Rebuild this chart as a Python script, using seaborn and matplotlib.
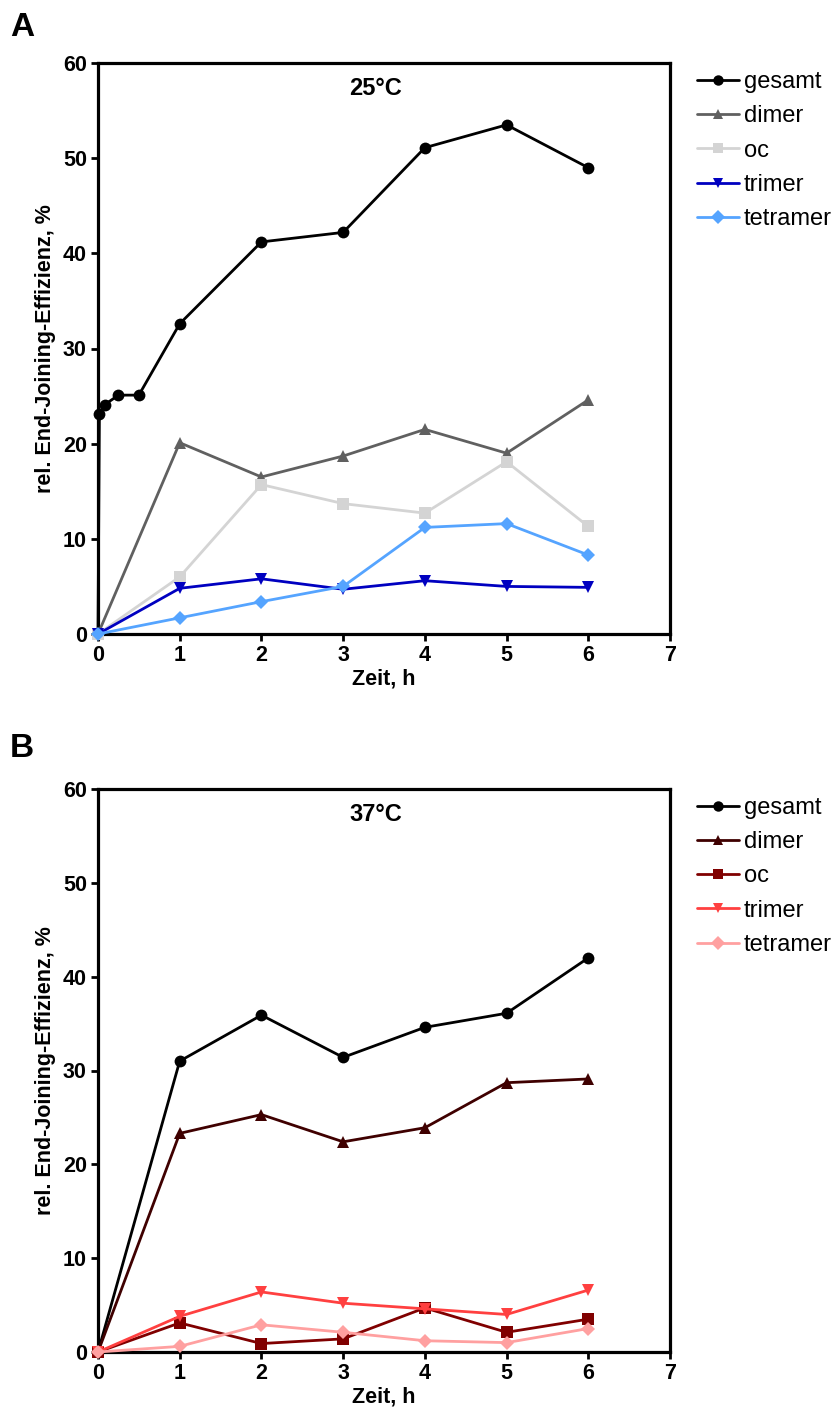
import numpy as np
import pandas as pd
import matplotlib
matplotlib.use("Agg")
import matplotlib.pyplot as plt
import seaborn as sns

# ---------------- data ----------------
series = ["gesamt", "dimer", "oc", "trimer", "tetramer"]
hours = [0, 1, 2, 3, 4, 5, 6]

# Panel A (25 °C)
a_gesamt_x = [0, 0.017, 0.083, 0.25, 0.5, 1, 2, 3, 4, 5, 6]
a_gesamt = [0, 23.1, 24.1, 25.1, 25.1, 32.6, 41.2, 42.2, 51.1, 53.5, 49.0]
a_dimer = [0, 20.1, 16.5, 18.7, 21.5, 19.0, 24.6]
a_oc = [0, 6.0, 15.7, 13.7, 12.7, 18.1, 11.3]
a_trimer = [0, 4.8, 5.8, 4.7, 5.6, 5.0, 4.9]
a_tetramer = [0, 1.7, 3.4, 5.0, 11.2, 11.6, 8.3]

# Panel B (37 °C)
b_gesamt = [0, 31.0, 35.9, 31.4, 34.6, 36.1, 42.0]
b_dimer = [0, 23.3, 25.3, 22.4, 23.9, 28.7, 29.1]
b_oc = [0, 3.1, 0.9, 1.4, 4.7, 2.1, 3.5]
b_trimer = [0, 3.8, 6.4, 5.2, 4.6, 4.0, 6.6]
b_tetramer = [0, 0.6, 2.9, 2.1, 1.2, 1.0, 2.5]

xticks = [0, 1, 2, 3, 4, 5, 6, 7]
yticks = [0, 10, 20, 30, 40, 50, 60]

palette_a = {"gesamt": "#000000", "dimer": "#606060", "oc": "#D4D4D4",
             "trimer": "#0000C0", "tetramer": "#55A4FF"}
palette_b = {"gesamt": "#000000", "dimer": "#3F0000", "oc": "#800000",
             "trimer": "#FF4040", "tetramer": "#FFA0A0"}
markers = {"gesamt": "o", "dimer": "^", "oc": "s", "trimer": "v", "tetramer": "D"}
msizes = {"gesamt": 8.5, "dimer": 8.5, "oc": 8.5, "trimer": 9, "tetramer": 7}


def long_df(xs_list, ys_list):
    rows = []
    for name, xs, ys in zip(series, xs_list, ys_list):
        for x, y in zip(xs, ys):
            rows.append({"Zeit": x, "Wert": y, "Serie": name})
    return pd.DataFrame(rows)


df_a = long_df([a_gesamt_x, hours, hours, hours, hours],
               [a_gesamt, a_dimer, a_oc, a_trimer, a_tetramer])
df_b = long_df([hours] * 5, [b_gesamt, b_dimer, b_oc, b_trimer, b_tetramer])

sns.set_theme(style="ticks")
plt.rcParams["font.family"] = ["Liberation Sans", "DejaVu Sans"]
plt.rcParams.update({"text.color": "black", "axes.labelcolor": "black",
                     "xtick.color": "black", "ytick.color": "black",
                     "axes.edgecolor": "black"})

W, H = 836, 1419
fig = plt.figure(figsize=(W / 100, H / 100), dpi=100)


def px_axes(left, top, right, bottom):
    return fig.add_axes([left / W, 1 - bottom / H, (right - left) / W, (bottom - top) / H])


def draw(ax, df, palette, title, letter, letter_y):
    for name in series:
        sub = df[df["Serie"] == name]
        sns.lineplot(data=sub, x="Zeit", y="Wert", ax=ax, color=palette[name],
                     marker=markers[name], markersize=msizes[name],
                     markeredgewidth=0, linewidth=2.0, label=name,
                     clip_on=False, zorder=3, errorbar=None, sort=False)
    ax.set_xlim(0, 7)
    ax.set_ylim(0, 60)
    ax.set_xticks(xticks)
    ax.set_yticks(yticks)
    for sp in ax.spines.values():
        sp.set_visible(True)
        sp.set_linewidth(2.3)
        sp.set_color("black")
    ax.tick_params(axis="both", direction="out", length=5, width=2.0,
                   labelsize=15.5, color="black", labelcolor="black", pad=3)
    for lab in ax.get_xticklabels() + ax.get_yticklabels():
        lab.set_fontweight("bold")
    ax.set_xlabel("Zeit, h", fontsize=15.5, fontweight="bold", labelpad=2,
                  color="black")
    ax.set_ylabel("rel. End-Joining-Effizienz, %", fontsize=15.5,
                  fontweight="bold", labelpad=5, color="black")
    ax.text(0.485, 0.975, title, transform=ax.transAxes, ha="center",
            va="top", fontsize=17, fontweight="bold", color="black")
    leg = ax.legend(loc="upper left", bbox_to_anchor=(1.047, 0.986),
                    frameon=False, fontsize=17, handlelength=1.8,
                    handletextpad=0.18, labelspacing=0.52, borderaxespad=0,
                    borderpad=0)
    for h in leg.legend_handles:
        h.set_markersize(7.5)
    for t in leg.get_texts():
        t.set_color("black")
    fig.text(10 / W, 1 - letter_y / H, letter, fontsize=24,
             fontweight="bold", va="center", ha="left", color="black")


ax_a = px_axes(98, 63, 670, 634)
draw(ax_a, df_a, palette_a, "25°C", "A", 27)

ax_b = px_axes(98, 789, 670, 1352)
draw(ax_b, df_b, palette_b, "37°C", "B", 748)

fig.savefig("out.png", dpi=100)
